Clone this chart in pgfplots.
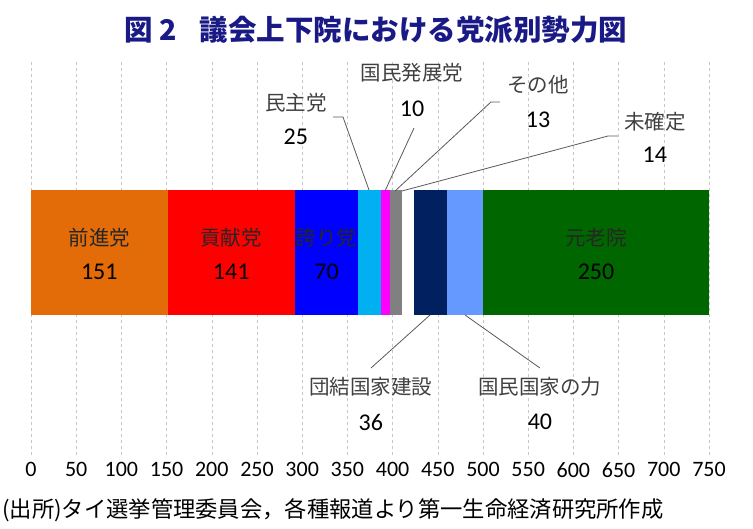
\documentclass[border=0pt]{standalone}
\usepackage{pgfplots}
\pgfplotsset{compat=1.18}
\usepackage{fontspec}
\setmainfont{Noto Sans CJK JP}
\newfontfamily\num{Carlito}
\definecolor{cOrange}{HTML}{E36C09}
\definecolor{cRed}{HTML}{FF0000}
\definecolor{cBlue}{HTML}{0000FF}
\definecolor{cCyan}{HTML}{00B0F0}
\definecolor{cMag}{HTML}{FF00FF}
\definecolor{cGray}{HTML}{808080}
\definecolor{cWhite}{HTML}{FFFFFF}
\definecolor{cNavy}{HTML}{002060}
\definecolor{cLBlue}{HTML}{6699FF}
\definecolor{cGreen}{HTML}{006600}
\definecolor{cTitle}{HTML}{1A1A86}
\definecolor{cLab}{HTML}{404040}
\definecolor{cLine}{HTML}{595959}
\newcommand{\jl}{\fontsize{20.5}{22}\selectfont}
\newcommand{\nl}{\num\fontsize{24}{26}\selectfont}
\begin{document}
\begin{tikzpicture}[x=1pt,y=1pt]
\useasboundingbox (0,0) rectangle (753,528);
\node[font=\fontsize{28.5}{30}\selectfont\bfseries, text=cTitle] at (376,498) {図 2\hspace{0.8em}議会上下院における党派別勢力図};
\node[anchor=west, font=\fontsize{22.3}{24}\selectfont, inner sep=0pt] at (2,18) {(出所)タイ選挙管理委員会，各種報道より第一生命経済研究所作成};
\begin{axis}[
  at={(31pt,73pt)}, anchor=south west,
  scale only axis, width=678pt, height=393pt,
  xmin=0, xmax=750, ymin=0, ymax=393,
  xbar stacked, bar width=125,
  axis line style={draw=none},
  ytick=\empty,
  xtick={0,50,...,750},
  xmajorgrids,
  major grid style={dashed, gray!45, line width=0.6pt},
  major tick length=0pt,
  /pgf/number format/assume math mode=true,
  xticklabel style={font=\num\fontsize{22}{23}\selectfont, yshift=-4pt},
  clip=false,
]
\addplot[fill=cOrange, draw=none] coordinates {(151,202.5)};
\addplot[fill=cRed, draw=none] coordinates {(141,202.5)};
\addplot[fill=cBlue, draw=none] coordinates {(70,202.5)};
\addplot[fill=cCyan, draw=none] coordinates {(25,202.5)};
\addplot[fill=cMag, draw=none] coordinates {(10,202.5)};
\addplot[fill=cGray, draw=none] coordinates {(13,202.5)};
\addplot[fill=cWhite, draw=none] coordinates {(14,202.5)};
\addplot[fill=cNavy, draw=none] coordinates {(36,202.5)};
\addplot[fill=cLBlue, draw=none] coordinates {(40,202.5)};
\addplot[fill=cGreen, draw=none] coordinates {(250,202.5)};
\coordinate (t1) at (axis cs:75.5,217);  \coordinate (n1) at (axis cs:75.5,183);
\coordinate (t2) at (axis cs:221.5,217); \coordinate (n2) at (axis cs:221.5,183);
\coordinate (t3) at (axis cs:327,217);   \coordinate (n3) at (axis cs:327,183);
\coordinate (t4) at (axis cs:625,217);   \coordinate (n4) at (axis cs:625,183);
\coordinate (o1) at (axis cs:293,352);   \coordinate (m1) at (axis cs:293,318);
\coordinate (o2) at (axis cs:421.5,382); \coordinate (m2) at (axis cs:421.5,346);
\coordinate (o3) at (axis cs:561,370);   \coordinate (m3) at (axis cs:561,335);
\coordinate (o4) at (axis cs:690,333);   \coordinate (m4) at (axis cs:690,300);
\coordinate (o5) at (axis cs:376,68);    \coordinate (m5) at (axis cs:376,33);
\coordinate (o6) at (axis cs:563,68);    \coordinate (m6) at (axis cs:563,33);
\coordinate (l1a) at (axis cs:334.1,338); \coordinate (l1b) at (axis cs:345.1,338); \coordinate (l1c) at (axis cs:373.9,265);
\coordinate (l2a) at (axis cs:423.7,327); \coordinate (l2c) at (axis cs:391.6,264);
\coordinate (l3a) at (axis cs:518.8,353); \coordinate (l3b) at (axis cs:508.8,353); \coordinate (l3c) at (axis cs:402.7,264);
\coordinate (l4a) at (axis cs:649.3,319); \coordinate (l4b) at (axis cs:638.3,319); \coordinate (l4c) at (axis cs:410.4,264);
\coordinate (l5a) at (axis cs:441.4,140); \coordinate (l5c) at (axis cs:376.1,87);
\coordinate (l6a) at (axis cs:480.1,140); \coordinate (l6c) at (axis cs:563,87);
\end{axis}
% inside labels
\node[font=\jl, text=black!85] at (t1) {前進党};
\node[font=\nl] at (n1) {151};
\node[font=\jl, text=black!85] at (t2) {貢献党};
\node[font=\nl] at (n2) {141};
\node[font=\jl, text=black!85] at (t3) {誇り党};
\node[font=\nl] at (n3) {70};
\node[font=\jl, text=black!85] at (t4) {元老院};
\node[font=\nl] at (n4) {250};
% outside labels
\node[font=\jl, text=cLab] at (o1) {民主党};
\node[font=\nl] at (m1) {25};
\node[font=\jl, text=cLab] at (o2) {国民発展党};
\node[font=\nl] at (m2) {10};
\node[font=\jl, text=cLab] at (o3) {その他};
\node[font=\nl] at (m3) {13};
\node[font=\jl, text=cLab] at (o4) {未確定};
\node[font=\nl] at (m4) {14};
\node[font=\jl, text=cLab] at (o5) {団結国家建設};
\node[font=\nl] at (m5) {36};
\node[font=\jl, text=cLab] at (o6) {国民国家の力};
\node[font=\nl] at (m6) {40};
% leader lines
\draw[cLine, line width=0.8pt] (l1a) -- (l1b) -- (l1c);
\draw[cLine, line width=0.8pt] (l2a) -- (l2c);
\draw[cLine, line width=0.8pt] (l3a) -- (l3b) -- (l3c);
\draw[cLine, line width=0.8pt] (l4a) -- (l4b) -- (l4c);
\draw[cLine, line width=0.8pt] (l5a) -- (l5c);
\draw[cLine, line width=0.8pt] (l6a) -- (l6c);
\end{tikzpicture}
\end{document}
